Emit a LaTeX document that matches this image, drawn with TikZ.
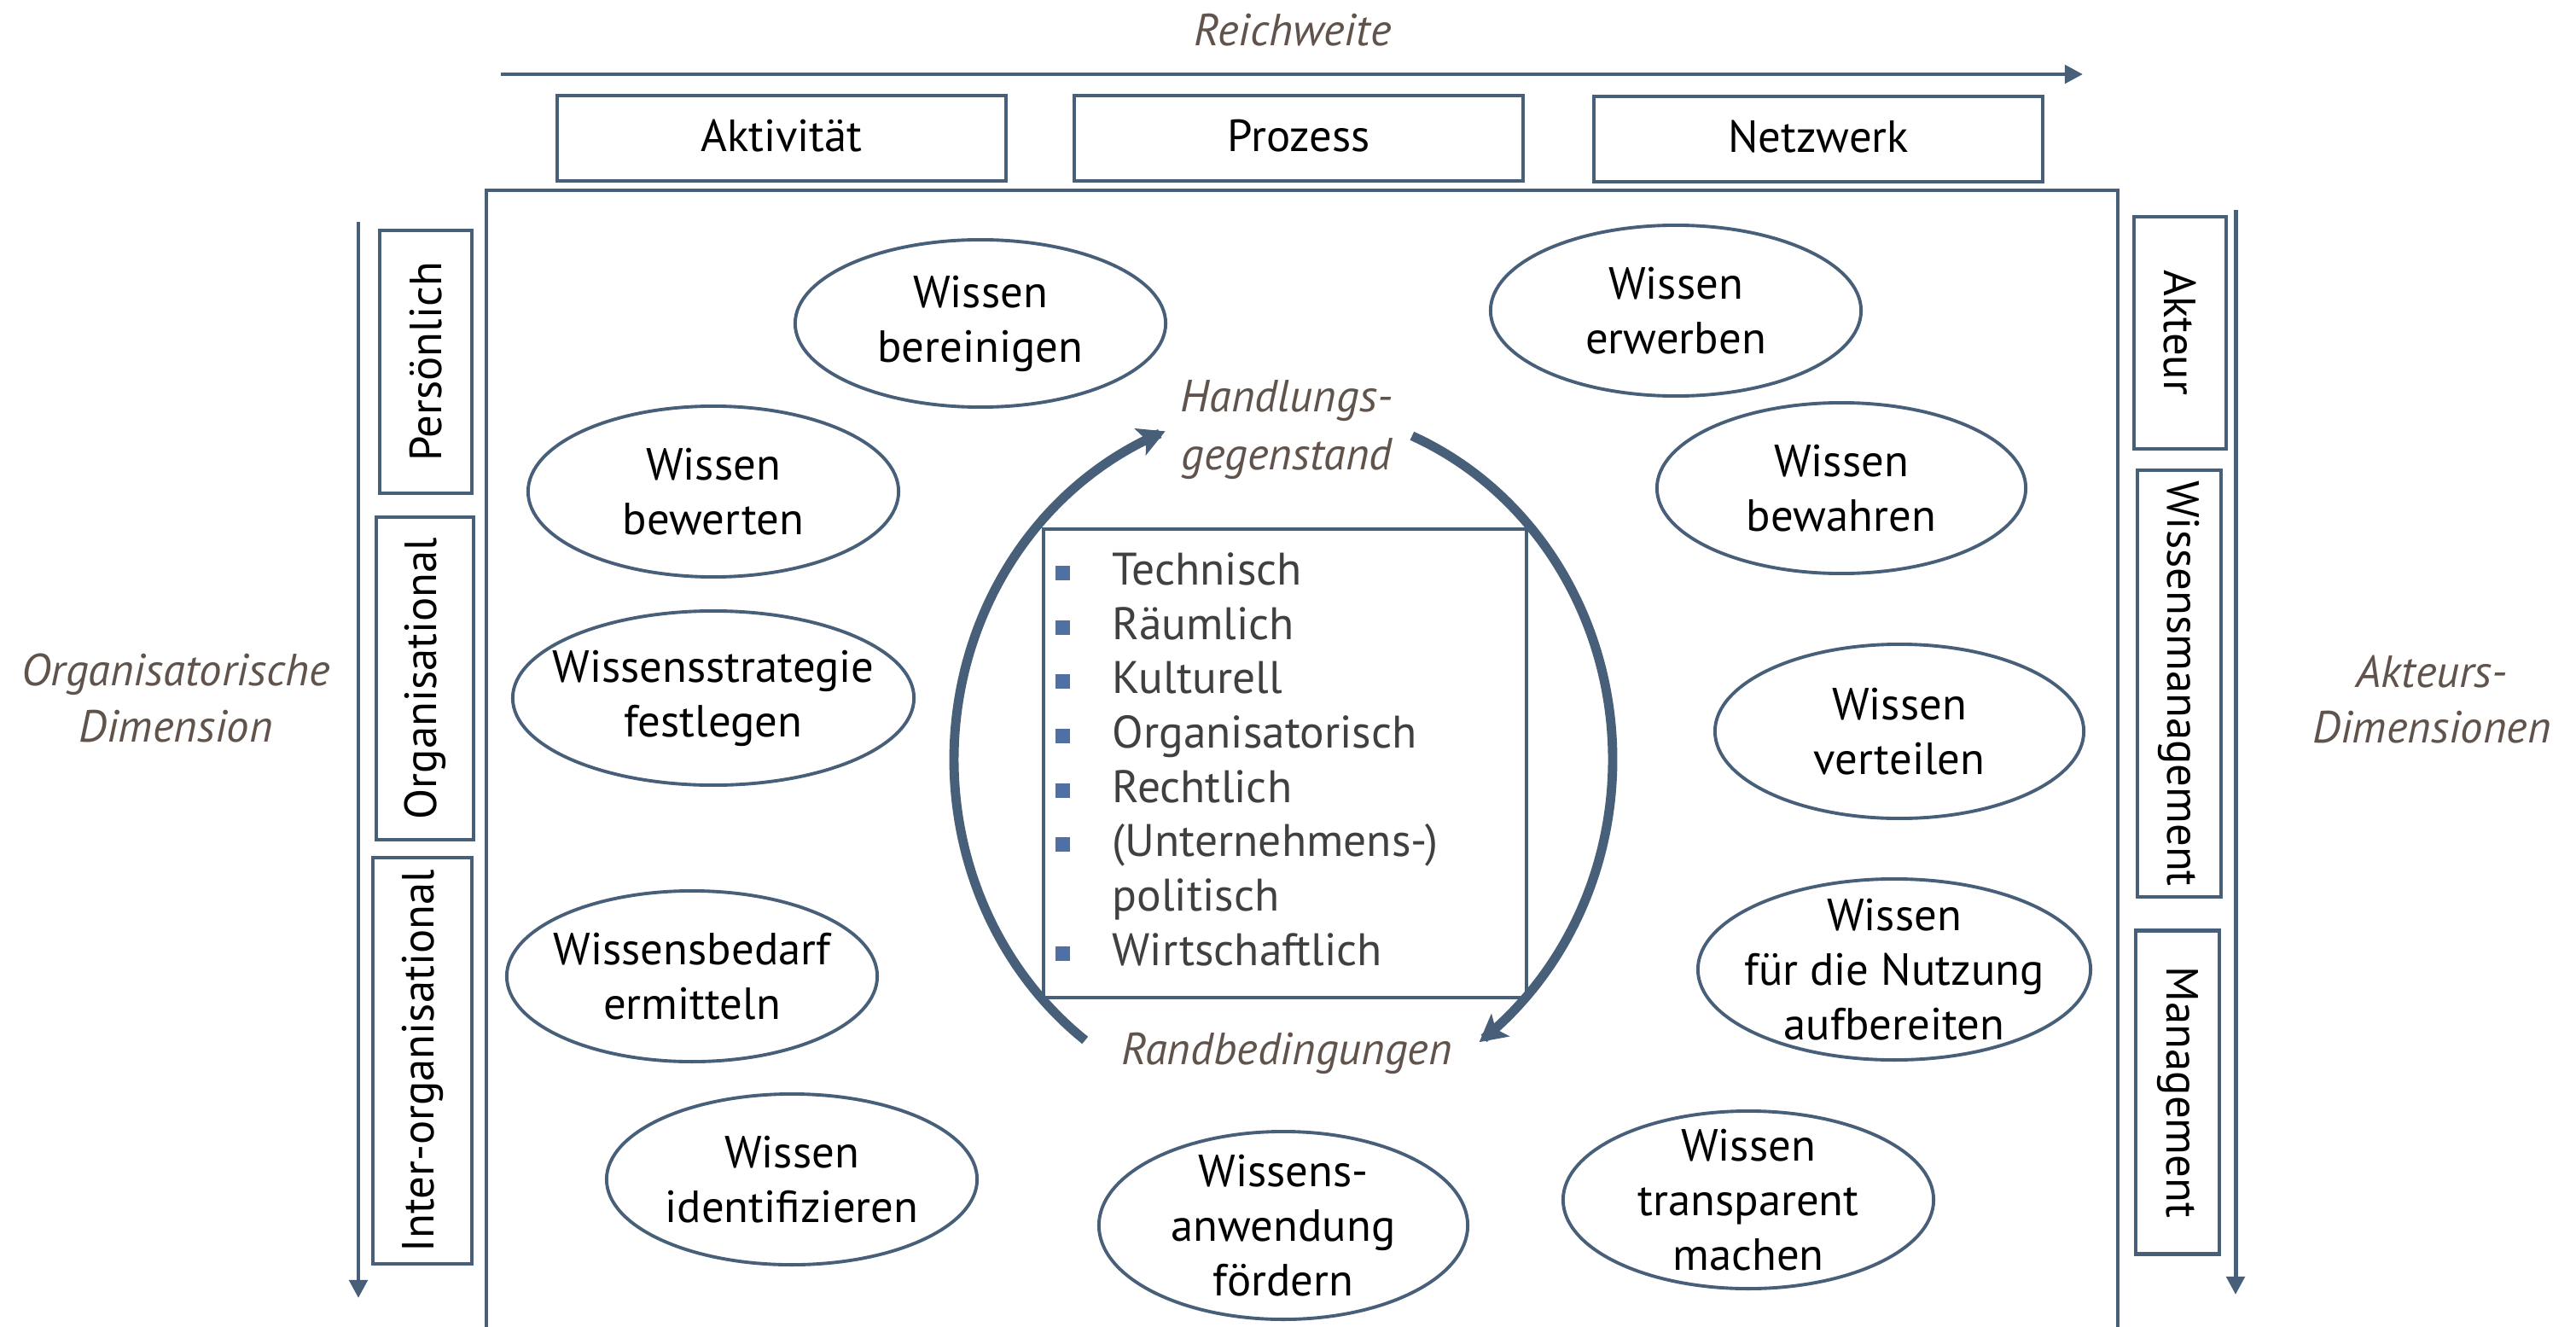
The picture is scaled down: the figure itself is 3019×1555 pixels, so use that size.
\documentclass[tikz,border=0pt]{standalone}
\usepackage{fontspec}
\setmainfont{PT Sans}
\usetikzlibrary{shapes.geometric,arrows.meta}
\definecolor{lineblue}{RGB}{72,95,122}
\definecolor{bulletblue}{RGB}{79,111,165}
\definecolor{labelbrown}{RGB}{95,83,76}
\definecolor{listgray}{RGB}{64,64,64}
\tikzset{
  ell/.style={ellipse, draw=lineblue, line width=1.1pt, inner sep=-1.2cm, align=center, font=\fontsize{15}{18.2}\selectfont, execute at begin node=\vspace*{3pt}},
  topbox/.style={rectangle, draw=lineblue, line width=1.3pt, minimum width=5.26cm, minimum height=1.0cm, inner sep=0pt, font=\fontsize{15}{18}\selectfont},
  vbox/.style={rectangle, draw=lineblue, line width=1.3pt, inner sep=0pt, font=\fontsize{15}{18}\selectfont},
  dimlabel/.style={font=\fontsize{15}{18.5}\selectfont\itshape, text=labelbrown, align=center},
  axisarrow/.style={draw=lineblue, line width=1.4pt, -{Triangle[length=6pt,width=6pt]}},
  cyclearrow/.style={draw=lineblue, line width=3.1pt, -{Stealth[length=9pt,width=9.5pt,inset=2pt]}},
  listitem/.style={anchor=base west, inner sep=0pt, text=listgray, font=\fontsize{15.2}{18}\selectfont},
  frameline/.style={draw=lineblue, line width=1.3pt}
}
\begin{document}
\begin{tikzpicture}[x=0.01cm,y=-0.01cm]
\useasboundingbox (0,0) rectangle (3019,1555);

% Reichweite
\node[dimlabel] (reich) at (1515,35) {Reichweite};
\coordinate (ra) at (587,87);
\coordinate (rb) at (2441,87);
\draw[axisarrow] (ra) -- (rb);

\node[topbox] (akt) at (916,162) {\raisebox{2pt}{Aktivität}};
\node[topbox] (proz) at (1522,162) {\raisebox{2pt}{Prozess}};
\node[topbox] (netz) at (2131,163) {\raisebox{2pt}{Netzwerk}};

% main frame
\coordinate (fbl) at (570,1575);
\coordinate (ftl) at (570,223);
\coordinate (ftr) at (2482,223);
\coordinate (fbr) at (2482,1575);
\draw[frameline] (fbl) -- (ftl) -- (ftr) -- (fbr);

% left dimension
\node[dimlabel] (orgdim) at (206,818) {Organisatorische\\Dimension};
\coordinate (la) at (420,260);
\coordinate (lb) at (420,1521);
\draw[axisarrow] (la) -- (lb);
\node[vbox, rotate=90, minimum width=3.08cm, minimum height=1.08cm] (pers) at (499,424) {Persönlich};
\node[vbox, rotate=90, minimum width=3.78cm, minimum height=1.14cm] (orga) at (498,795) {Organisational};
\node[vbox, rotate=90, minimum width=4.76cm, minimum height=1.16cm] (inter) at (495,1243) {Inter-organisational};

% right dimension
\node[dimlabel] (aktdim) at (2850,820) {Akteurs-\\Dimensionen};
\coordinate (rra) at (2620,246);
\coordinate (rrb) at (2620,1517);
\draw[axisarrow] (rra) -- (rrb);
\node[vbox, rotate=-90, minimum width=2.72cm, minimum height=1.08cm] (akteur) at (2555,390) {Akteur};
\node[vbox, rotate=-90, minimum width=5.00cm, minimum height=0.98cm] (wm) at (2554,801) {Wissensmanagement};
\node[vbox, rotate=-90, minimum width=3.79cm, minimum height=0.98cm] (mgmt) at (2552,1280) {Management};

% ellipses
\node[ell, minimum width=4.34cm, minimum height=1.96cm] (e1) at (1149,379) {Wissen\\bereinigen};
\node[ell, minimum width=4.34cm, minimum height=2.00cm] (e2) at (1964,364) {Wissen\\erwerben};
\node[ell, minimum width=4.34cm, minimum height=2.00cm] (e3) at (836,576) {Wissen\\bewerten};
\node[ell, minimum width=4.32cm, minimum height=2.00cm] (e4) at (2158,572) {Wissen\\bewahren};
\node[ell, minimum width=4.70cm, minimum height=2.04cm] (e5) at (836,818) {Wissensstrategie\\festlegen};
\node[ell, minimum width=4.32cm, minimum height=2.04cm] (e6) at (2226,857) {Wissen\\verteilen};
\node[ell, minimum width=4.34cm, minimum height=2.00cm] (e7) at (811,1144) {Wissensbedarf\\ermitteln};
\node[ell, minimum width=4.60cm, minimum height=2.12cm] (e8) at (2220,1136) {Wissen\\für die Nutzung\\aufbereiten};
\node[ell, minimum width=4.34cm, minimum height=2.00cm] (e9) at (928,1382) {Wissen\\identifizieren};
\node[ell, minimum width=4.32cm, minimum height=2.20cm] (e10) at (1504,1436) {Wissens-\\anwendung\\fördern};
\node[ell, minimum width=4.34cm, minimum height=2.08cm] (e11) at (2049,1406) {Wissen\\transparent\\machen};

% central box
\node[rectangle, draw=lineblue, line width=1.1pt, minimum width=5.66cm, minimum height=5.49cm, inner sep=0pt] (cbox) at (1506,894.5) {};
\node[listitem] (l1) at (1303,685) {Technisch};
\node[listitem] (l2) at (1303,749) {Räumlich};
\node[listitem] (l3) at (1303,812) {Kulturell};
\node[listitem] (l4) at (1303,876) {Organisatorisch};
\node[listitem] (l5) at (1303,940) {Rechtlich};
\node[listitem] (l6) at (1303,1003) {(Unternehmens-)};
\node[listitem] (l7) at (1303,1067) {politisch};
\node[listitem] (l8) at (1303,1131) {Wirtschaftlich};
\foreach \b in {685,749,812,876,940,1003,1131}{
  \fill[bulletblue] (1237,\b-22) rectangle (1254,\b-5);
}

% cycle labels
\node[dimlabel, anchor=base] (hg1) at (1508,482) {Handlungs-};
\node[dimlabel, anchor=base] (hg2) at (1508,550) {gegenstand};
\node[dimlabel, anchor=base] (rand) at (1508,1247) {Randbedingungen};

% cycle arcs
\draw[cyclearrow] plot[domain=127:249, samples=80, smooth] ({1504+386*cos(\x)},{890+412*sin(\x)});
\draw[cyclearrow] plot[domain=-67:53.5, samples=80, smooth] ({1504+386*cos(\x)},{890+412*sin(\x)});
\end{tikzpicture}
\end{document}
